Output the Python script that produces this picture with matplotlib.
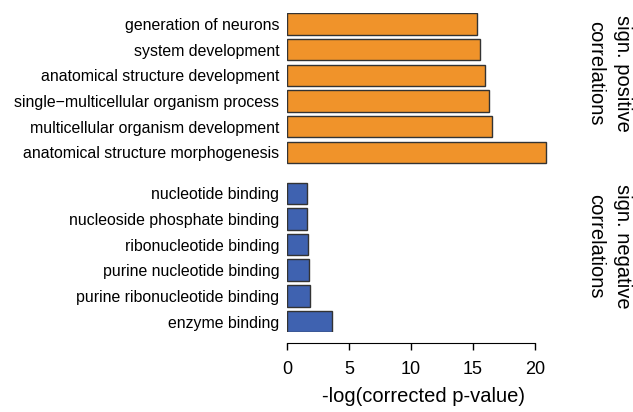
import matplotlib.pyplot as plt

plt.rcParams['font.family'] = ['Liberation Sans', 'DejaVu Sans']

# 正相关的 GO 条目（从上到下）
pos_terms = ['generation of neurons', 'system development',
             'anatomical structure development',
             'single\u2212multicellular organism process',
             'multicellular organism development',
             'anatomical structure morphogenesis']
pos_values = [15.3, 15.6, 16.0, 16.3, 16.55, 20.9]

# 负相关的 GO 条目（从上到下）
neg_terms = ['nucleotide binding', 'nucleoside phosphate binding',
             'ribonucleotide binding', 'purine nucleotide binding',
             'purine ribonucleotide binding', 'enzyme binding']
neg_values = [1.65, 1.65, 1.72, 1.8, 1.85, 3.6]

x_ticks = [0, 5, 10, 15, 20]

W, H = 633, 412
fig = plt.figure(figsize=(W / 100, H / 100), dpi=100)
# 坐标区域按像素定位
left, right, top, bottom = 287, 287 + 12.4 * 22, 13.3, 332.3
ax = fig.add_axes([left / W, 1 - bottom / H, (right - left) / W, (bottom - top) / H])

pos_y = list(range(len(pos_terms)))
neg_y = [len(pos_terms) + 0.6 + i for i in range(len(neg_terms))]

ax.barh(pos_y, pos_values, height=0.84, color='#F0932A', edgecolor='#333333', linewidth=1)
ax.barh(neg_y, neg_values, height=0.84, color='#3F62B0', edgecolor='#333333', linewidth=1)

ax.set_yticks(pos_y + neg_y)
ax.set_yticklabels(pos_terms + neg_terms, fontsize=11.4)
ax.tick_params(axis='y', length=0, pad=5.5)
ax.set_ylim(neg_y[-1] + 0.42, -0.42)
ax.set_xlim(0, 22)

ax.set_xticks(x_ticks)
ax.tick_params(axis='x', labelsize=13, length=4.8, width=1, pad=8)
ax.set_xlabel('-log(corrected p-value)', fontsize=14.5, labelpad=6)

for s in ['top', 'right', 'left']:
    ax.spines[s].set_visible(False)
ax.spines['bottom'].set_bounds(0, 20)
ax.spines['bottom'].set_position(('outward', 8))

# 右侧分组说明
fig.text(609 / W, 1 - 73 / H, 'sign. positive\ncorrelations', rotation=270,
         ha='center', va='center', fontsize=14.5, linespacing=1.55)
fig.text(609 / W, 1 - 246 / H, 'sign. negative\ncorrelations', rotation=270,
         ha='center', va='center', fontsize=14.5, linespacing=1.55)

fig.savefig('out.png', dpi=100)
